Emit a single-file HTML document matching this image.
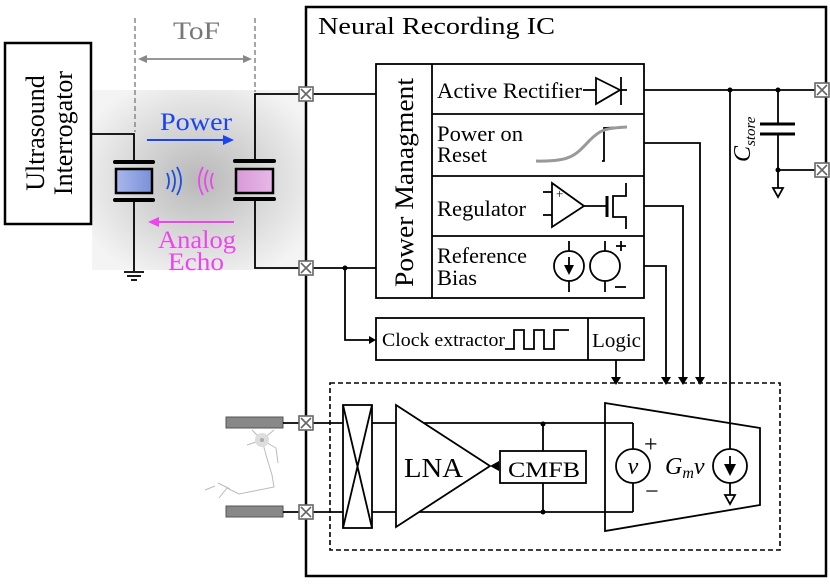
<!DOCTYPE html>
<html><head><meta charset="utf-8"><style>
html,body{margin:0;padding:0;background:#fff}
svg{display:block;font-family:"Liberation Serif",serif}
</style></head><body>
<svg width="830" height="586" viewBox="0 0 830 586" xmlns="http://www.w3.org/2000/svg">
<defs>
<radialGradient id="g" cx="0.5" cy="0.5" r="0.6">
<stop offset="0" stop-color="#b8b8b8"/><stop offset="1" stop-color="#f4f4f4"/>
</radialGradient>
<linearGradient id="bl" x1="0" x2="1"><stop offset="0" stop-color="#a8b8ec"/><stop offset="1" stop-color="#7a90d8"/></linearGradient>
<linearGradient id="pk" x1="0" x2="1"><stop offset="0" stop-color="#d89ad8"/><stop offset="1" stop-color="#e8b8e8"/></linearGradient>
</defs>
<rect x="92" y="90" width="214" height="180" fill="url(#g)"/>
<rect x="306" y="7" width="520" height="569" fill="none" stroke="#000" stroke-width="2.5"/>
<text x="318" y="34" font-size="24" textLength="237" lengthAdjust="spacingAndGlyphs">Neural Recording IC</text>
<rect x="5" y="43" width="86" height="181" fill="#fff" stroke="#000" stroke-width="2.5"/>
<text transform="translate(44,133) rotate(-90)" font-size="26" text-anchor="middle">Ultrasound</text>
<text transform="translate(72,133) rotate(-90)" font-size="26" text-anchor="middle">Interrogator</text>
<g stroke="#888" stroke-width="1.5" stroke-dasharray="5,3" fill="none">
<line x1="135" y1="18" x2="135" y2="132"/><line x1="255" y1="18" x2="255" y2="92"/></g>
<text x="173" y="39" font-size="25" fill="#777" textLength="47" lengthAdjust="spacingAndGlyphs">ToF</text>
<line x1="140" y1="59" x2="250" y2="59" stroke="#888" stroke-width="1.8"/>
<path d="M138,59 l9,-4 v8 z M252,59 l-9,-4 v8 z" fill="#888"/>
<g stroke="#000" stroke-width="1.8" fill="none">
<polyline points="91,134 134,134 134,162"/>
<line x1="134" y1="200" x2="134" y2="271"/>
<line x1="124" y1="272" x2="144" y2="272"/><line x1="127" y1="276" x2="141" y2="276"/><line x1="131" y1="280" x2="137" y2="280"/>
<polyline points="255,162 255,94 306,94"/>
<polyline points="255,200 255,268 306,268"/>
</g>
<g stroke="#000" stroke-linecap="round">
<line x1="115" y1="162" x2="153" y2="162" stroke-width="4"/><line x1="115" y1="200" x2="153" y2="200" stroke-width="4"/>
<line x1="235" y1="161" x2="274" y2="161" stroke-width="4"/><line x1="235" y1="199" x2="274" y2="199" stroke-width="4"/>
</g>
<rect x="116" y="169" width="36" height="24" fill="url(#bl)" stroke="#000" stroke-width="2.5"/>
<rect x="236" y="169" width="37" height="24" fill="url(#pk)" stroke="#000" stroke-width="2.5"/>
<g fill="none" stroke-width="1.8">
<path d="M167,173 q4,8 0,16 M172,170 q6,11 0,22 M177,167 q8,14 0,28" stroke="#1a4fe0"/>
<path d="M213,173 q-4,8 0,16 M208,170 q-6,11 0,22 M203,167 q-8,14 0,28" stroke="#ee44ee"/>
</g>
<text x="160" y="130" font-size="25" fill="#1a44ee" textLength="72" lengthAdjust="spacingAndGlyphs">Power</text>
<line x1="147" y1="140" x2="225" y2="140" stroke="#1a44ee" stroke-width="2"/><path d="M234,140 l-11,-5 v10 z" fill="#1a44ee"/>
<line x1="157" y1="222" x2="234" y2="222" stroke="#ee44ee" stroke-width="2"/><path d="M148,222 l11,-5 v10 z" fill="#ee44ee"/>
<text x="158" y="248" font-size="25" fill="#ee44ee" textLength="78" lengthAdjust="spacingAndGlyphs">Analog</text>
<text x="168" y="270" font-size="25" fill="#ee44ee" textLength="56" lengthAdjust="spacingAndGlyphs">Echo</text>
<g stroke="#000" stroke-width="1.8" fill="none">
<rect x="376" y="64" width="268" height="234" fill="#fff"/>
<line x1="432" y1="64" x2="432" y2="298"/>
<line x1="432" y1="114" x2="644" y2="114"/><line x1="432" y1="176" x2="644" y2="176"/><line x1="432" y1="236" x2="644" y2="236"/>
<line x1="306" y1="94" x2="376" y2="94"/><line x1="306" y1="268" x2="376" y2="268"/>
</g>
<text transform="translate(413,287) rotate(-90)" font-size="26" textLength="209" lengthAdjust="spacingAndGlyphs">Power Managment</text>
<text x="437" y="98" font-size="22" textLength="145" lengthAdjust="spacingAndGlyphs">Active Rectifier</text>
<text x="437" y="141" font-size="22" textLength="86" lengthAdjust="spacingAndGlyphs">Power on</text>
<text x="437" y="162" font-size="22" textLength="50" lengthAdjust="spacingAndGlyphs">Reset</text>
<text x="437" y="216" font-size="22" textLength="89" lengthAdjust="spacingAndGlyphs">Regulator</text>
<text x="437" y="263" font-size="22" textLength="90" lengthAdjust="spacingAndGlyphs">Reference</text>
<text x="437" y="285" font-size="22" textLength="40" lengthAdjust="spacingAndGlyphs">Bias</text>
<g stroke="#000" stroke-width="1.8" fill="none">
<line x1="583" y1="90" x2="596" y2="90"/><path d="M596,78 L620,90 L596,104 Z"/><line x1="621" y1="77" x2="621" y2="105"/><line x1="621" y1="90" x2="627" y2="90"/>
<polyline points="602,161 604,161 604,128 627,127"/>
<path d="M552,183 L584,206 L552,227 Z"/><line x1="543" y1="192" x2="552" y2="192"/><line x1="543" y1="215" x2="552" y2="215"/>
<line x1="584" y1="206" x2="607" y2="206"/><line x1="607" y1="196" x2="607" y2="217" stroke-width="3"/>
<polyline points="626,183 626,196 613,196 613,217 626,217 626,229"/>
<circle cx="569" cy="266" r="15"/><line x1="569" y1="241" x2="569" y2="251"/><line x1="569" y1="281" x2="569" y2="292"/><line x1="569" y1="257" x2="569" y2="268"/>
<circle cx="605" cy="266" r="15"/><line x1="605" y1="241" x2="605" y2="251"/><line x1="605" y1="281" x2="605" y2="292"/>
<line x1="621" y1="241" x2="621" y2="251"/><line x1="616" y1="246" x2="626" y2="246"/><line x1="615" y1="287" x2="626" y2="287"/>
</g>
<path d="M564,265 h10 l-5,10 z" fill="#000"/>
<path d="M536,161 C570,162 575,156 590,140 C600,130 605,128 627,127" stroke="#999" stroke-width="3" fill="none"/>
<text x="556" y="198" font-size="13">+</text>
<g stroke="#000" stroke-width="1.8" fill="none">
<line x1="644" y1="90" x2="815" y2="90"/>
<line x1="778" y1="90" x2="778" y2="124"/><line x1="760" y1="124" x2="795" y2="124" stroke-width="3"/><line x1="760" y1="134" x2="795" y2="134" stroke-width="3"/>
<line x1="778" y1="134" x2="778" y2="188"/><line x1="778" y1="170" x2="815" y2="170"/>
<path d="M773,188 h10 l-5,9 z"/>
<line x1="730" y1="90" x2="730" y2="449"/>
<polyline points="644,143 700,143 700,378"/>
<polyline points="644,206 683,206 683,378"/>
<polyline points="644,266 666,266 666,378"/>
<line x1="616" y1="360" x2="616" y2="378"/>
<polyline points="345,268 345,340 370,340"/>
</g>
<path d="M611,377 h10 l-5,8 z M661,377 h10 l-5,8 z M678,377 h10 l-5,8 z M695,377 h10 l-5,8 z M369,336 v8 l7,-4 z" fill="#000"/>
<g fill="#000"><circle cx="730" cy="90" r="2.5"/><circle cx="778" cy="90" r="2.5"/><circle cx="778" cy="170" r="2.5"/><circle cx="345" cy="268" r="2.5"/><circle cx="543" cy="424" r="2.5"/><circle cx="543" cy="512" r="2.5"/></g>
<text transform="translate(750,162) rotate(-90)" font-size="24" font-style="italic">C<tspan font-size="15" dy="5">store</tspan></text>
<g stroke="#000" stroke-width="1.8" fill="none">
<rect x="376" y="318" width="268" height="42"/><line x1="588" y1="318" x2="588" y2="360"/>
<polyline points="505,349 514,349 514,330 524,330 524,349 534,349 534,330 544,330 544,349 554,349 554,330 569,330"/>
</g>
<text x="382" y="346" font-size="19" textLength="123" lengthAdjust="spacingAndGlyphs">Clock extractor</text>
<text x="592" y="347" font-size="20" textLength="49" lengthAdjust="spacingAndGlyphs">Logic</text>
<rect x="330" y="383" width="450" height="167" fill="none" stroke="#000" stroke-width="1.6" stroke-dasharray="5,3"/>
<rect x="226" y="417" width="57" height="11" fill="#888" stroke="#555"/>
<rect x="226" y="506" width="57" height="11" fill="#888" stroke="#555"/>
<g stroke="#bbb" stroke-width="1" fill="none">
<path d="M262,440 l-10,-10 M262,440 l12,-10 M262,440 l-15,5 M262,440 l14,8 l2,15 M262,440 l4,15 l6,20 l2,12 l-20,4 l-15,3 l-12,-6 l-8,10 M230,489 l-12,-6 M215,486 l-10,4"/>
</g>
<circle cx="262" cy="440" r="7" fill="#ddd"/><circle cx="262" cy="440" r="2" fill="#aaa"/>
<g stroke="#000" stroke-width="1.8" fill="none">
<line x1="283" y1="423" x2="306" y2="423"/><line x1="283" y1="512" x2="306" y2="512"/>
<line x1="306" y1="423" x2="633" y2="423"/><line x1="306" y1="512" x2="633" y2="512"/>
<rect x="343" y="405" width="29" height="123" fill="#fff"/>
<line x1="343" y1="405" x2="372" y2="528"/><line x1="372" y1="405" x2="343" y2="528"/>
<path d="M396,405 L490,466 L396,527 Z" fill="#fff"/>
<rect x="500" y="451" width="86" height="32" fill="#fff"/>
<line x1="543" y1="424" x2="543" y2="451"/><line x1="543" y1="483" x2="543" y2="512"/>
<path d="M605,403 L760,428 L760,505 L605,531 Z"/>
<line x1="633" y1="423" x2="633" y2="449"/><line x1="633" y1="483" x2="633" y2="512"/>
<circle cx="633" cy="466" r="17" fill="#fff"/>
<circle cx="730" cy="466" r="17"/>
<line x1="730" y1="483" x2="730" y2="495"/><path d="M725,495 h10 l-5,9 z"/>
<line x1="730" y1="456" x2="730" y2="470"/>
</g>
<path d="M490,466 l9,-5 v10 z M724,464 h12 l-6,12 z" fill="#000"/>
<text x="431" y="477" font-size="27" textLength="59" lengthAdjust="spacingAndGlyphs" text-anchor="start" dx="-27">LNA</text>
<text x="508" y="477" font-size="22" textLength="72" lengthAdjust="spacingAndGlyphs">CMFB</text>
<text x="633" y="474" font-size="24" font-style="italic" text-anchor="middle">v</text>
<text x="644" y="452" font-size="24">+</text><text x="645" y="499" font-size="24">−</text>
<text x="665" y="474" font-size="24" font-style="italic">G<tspan font-size="16" dy="4">m</tspan><tspan dy="-4">v</tspan></text>
<g fill="#fff" stroke="#666" stroke-width="1.6">
<g transform="translate(299,87)"><rect width="14" height="14"/><path d="M2,2 L12,12 M12,2 L2,12"/></g>
<g transform="translate(299,261)"><rect width="14" height="14"/><path d="M2,2 L12,12 M12,2 L2,12"/></g>
<g transform="translate(299,416)"><rect width="14" height="14"/><path d="M2,2 L12,12 M12,2 L2,12"/></g>
<g transform="translate(299,505)"><rect width="14" height="14"/><path d="M2,2 L12,12 M12,2 L2,12"/></g>
<g transform="translate(815,83)"><rect width="14" height="14"/><path d="M2,2 L12,12 M12,2 L2,12"/></g>
<g transform="translate(815,163)"><rect width="14" height="14"/><path d="M2,2 L12,12 M12,2 L2,12"/></g>
</g>
</svg>
</body></html>
